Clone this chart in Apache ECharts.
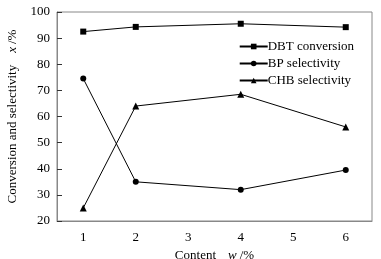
<!DOCTYPE html>
<html><head><meta charset="utf-8">
<script src="https://cdn.jsdelivr.net/npm/echarts@6/dist/echarts.min.js"></script>
<style>html,body{margin:0;padding:0;background:#fff}#c{width:381px;height:259px}</style>
</head><body><div id="c"></div>
<script>
var categories = ['1','2','3','4','5','6'];
var dbtConversion = [92.5, 94.3, null, 95.5, null, 94.2];
var bpSelectivity = [74.5, 35.0, null, 32.0, null, 39.5];
var chbSelectivity = [25.0, 64.0, null, 68.5, null, 56.0];
var yTicks = {min: 20, max: 100, interval: 10};

var font = '"Liberation Serif", "Times New Roman", serif';
var chart = echarts.init(document.getElementById('c'), null, {renderer: 'canvas'});
function mk(name, data, symbol, size) {
  return {name: name, type: 'line', data: data, connectNulls: true,
    symbol: symbol, symbolSize: size, showAllSymbol: true,
    lineStyle: {color: '#000', width: 1}, itemStyle: {color: '#000'},
    emphasis: {disabled: true}, animation: false};
}
chart.setOption({
  animation: false,
  textStyle: {fontFamily: font},
  grid: {left: 57, right: 9, top: 12, bottom: 38, show: true, borderColor: '#888', borderWidth: 1,
         containLabel: false, outerBoundsMode: 'none'},
  legend: {
    orient: 'vertical', right: 22, top: 35, itemGap: 4, itemWidth: 28, itemHeight: 7,
    textStyle: {fontFamily: font, fontSize: 13, color: '#000', padding: [0,0,0,-5]},
    data: ['DBT conversion', 'BP selectivity', 'CHB selectivity']
  },
  xAxis: {
    type: 'category', data: categories, boundaryGap: true,
    name: '{a|Content}    {b|w} {a|/%}', nameLocation: 'middle', nameGap: 25,
    nameTextStyle: {rich: {a: {fontFamily: font, fontSize: 13, color: '#000'}, b: {fontFamily: font, fontSize: 13, fontStyle: 'italic', color: '#000'}}},
    axisLine: {lineStyle: {color: '#888'}},
    axisTick: {alignWithLabel: true, inside: true, length: 4, lineStyle: {color: '#333'}},
    axisLabel: {fontFamily: font, fontSize: 13, color: '#000', margin: 10},
    splitLine: {show: false}
  },
  yAxis: {
    type: 'value', min: yTicks.min, max: yTicks.max, interval: yTicks.interval,
    name: '{a|Conversion and selectivity}    {b|x} {a|/%}', nameLocation: 'middle', nameGap: 38,
    nameTextStyle: {rich: {a: {fontFamily: font, fontSize: 13, color: '#000'}, b: {fontFamily: font, fontSize: 13, fontStyle: 'italic', color: '#000'}}},
    axisLine: {show: true, lineStyle: {color: '#888'}},
    axisTick: {show: true, inside: true, length: 5, lineStyle: {color: '#333'}},
    axisLabel: {fontFamily: font, fontSize: 13, color: '#000', margin: 7},
    splitLine: {show: false}
  },
  series: [
    mk('DBT conversion', dbtConversion, 'rect', 6),
    mk('BP selectivity', bpSelectivity, 'circle', 6),
    mk('CHB selectivity', chbSelectivity, 'triangle', 7)
  ]
});
</script></body></html>
